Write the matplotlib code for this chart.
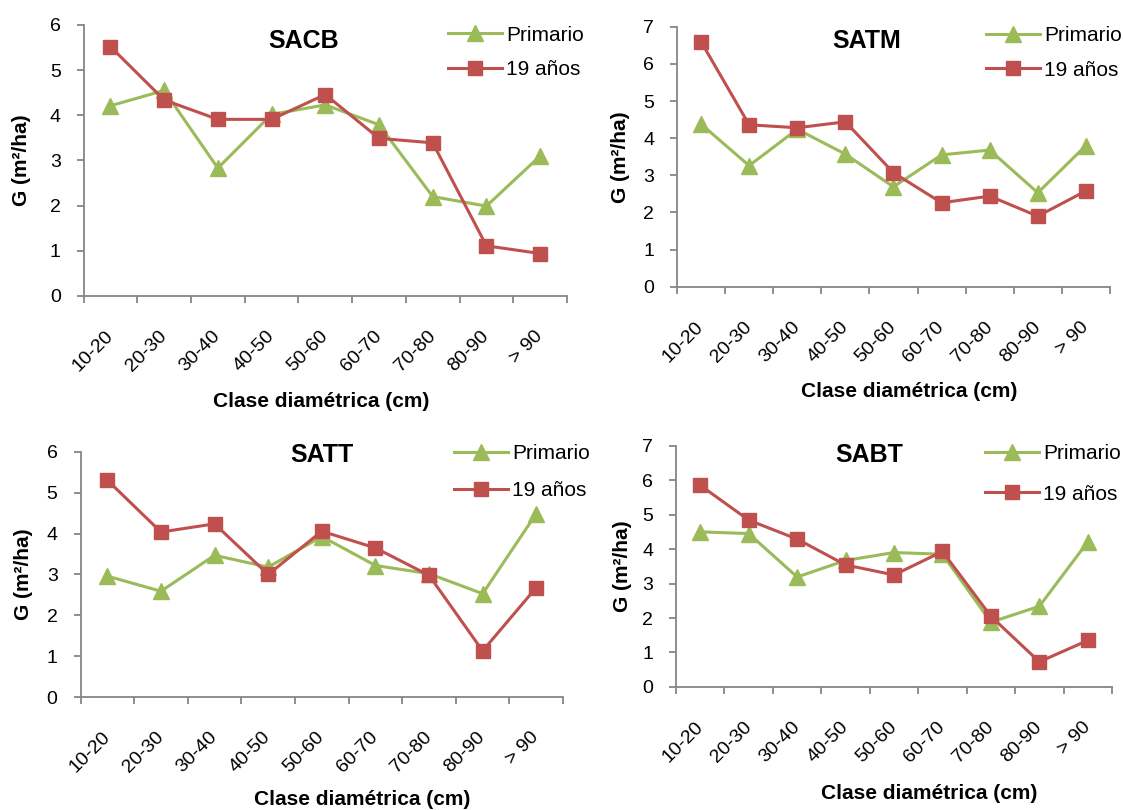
import matplotlib
matplotlib.use("Agg")
import matplotlib.pyplot as plt
from matplotlib.ticker import FixedLocator, NullFormatter, FixedFormatter

plt.rcParams['font.family'] = ['Liberation Sans', 'DejaVu Sans']

categories = ["10-20", "20-30", "30-40", "40-50", "50-60", "60-70", "70-80", "80-90", "> 90"]

sacb_primario = [4.21, 4.55, 2.83, 4.02, 4.23, 3.79, 2.20, 1.99, 3.10]
sacb_19 = [5.52, 4.34, 3.91, 3.91, 4.46, 3.49, 3.39, 1.11, 0.94]

satm_primario = [4.38, 3.26, 4.24, 3.57, 2.69, 3.55, 3.68, 2.53, 3.80]
satm_19 = [6.60, 4.36, 4.28, 4.44, 3.07, 2.26, 2.44, 1.90, 2.58]

satt_primario = [2.96, 2.59, 3.47, 3.18, 3.93, 3.22, 3.02, 2.53, 4.49]
satt_19 = [5.31, 4.04, 4.24, 3.00, 4.06, 3.65, 2.98, 1.13, 2.68]

sabt_primario = [4.50, 4.45, 3.19, 3.67, 3.90, 3.85, 1.88, 2.34, 4.21]
sabt_19 = [5.85, 4.84, 4.29, 3.54, 3.25, 3.93, 2.05, 0.73, 1.35]

titles = ["SACB", "SATM", "SATT", "SABT"]
series_labels = ["Primario", "19 años"]
ymax = [6, 7, 6, 7]

GREEN = "#9BBB59"
RED = "#C0504D"
GRAY = "#868686"

# layout (figure fractions) and text placement (axes fractions)
axes_rects = [
    (0.0744, 0.6346, 0.4305, 0.3346),
    (0.6028, 0.6460, 0.3856, 0.3210),
    (0.0717, 0.1395, 0.4297, 0.3025),
    (0.6020, 0.1519, 0.3882, 0.2979),
]
title_pos = [(0.455, 0.941), (0.439, 0.945), (0.500, 0.988), (0.443, 0.962)]
legend_anchor = [(0.753, 0.997), (0.7136, 1.003), (0.773, 1.033), (0.7076, 1.007)]
legend_spacing = [0.75, 0.75, 0.89, 1.04]
xlabel_pos = [(0.491, -0.354), (0.537, -0.367), (0.584, -0.38), (0.580, -0.402)]
ylabel_x = [-0.1086, -0.1085, -0.098, -0.101]

data = [
    (sacb_primario, sacb_19),
    (satm_primario, satm_19),
    (satt_primario, satt_19),
    (sabt_primario, sabt_19),
]

fig = plt.figure(figsize=(11.23, 8.10), dpi=100)
x = list(range(len(categories)))

for i, (prim, s19) in enumerate(data):
    ax = fig.add_axes(axes_rects[i])
    ax.plot(x, prim, color=GREEN, lw=2.2, marker="^", markersize=11,
            markerfacecolor=GREEN, markeredgecolor=GREEN, label=series_labels[0], zorder=3)
    ax.plot(x, s19, color=RED, lw=2.2, marker="s", markersize=10,
            markerfacecolor=RED, markeredgecolor=RED, label=series_labels[1], zorder=4)
    ax.set_xlim(-0.5, len(categories) - 0.5)
    ax.set_ylim(0, ymax[i])
    ax.set_yticks(range(0, ymax[i] + 1))
    for s in ["top", "right"]:
        ax.spines[s].set_visible(False)
    for s in ["left", "bottom"]:
        ax.spines[s].set_color(GRAY)
        ax.spines[s].set_linewidth(1.3)
    ax.spines["left"].set_zorder(1)
    ax.spines["bottom"].set_zorder(1)
    # category ticks at boundaries, labels at centres
    ax.xaxis.set_major_locator(FixedLocator([k - 0.5 for k in range(len(categories) + 1)]))
    ax.xaxis.set_major_formatter(NullFormatter())
    ax.xaxis.set_minor_locator(FixedLocator(x))
    ax.xaxis.set_minor_formatter(FixedFormatter(categories))
    ax.tick_params(axis="x", which="major", direction="out", length=5, width=1.3, color=GRAY)
    ax.tick_params(axis="x", which="minor", length=0, pad=27, labelsize=14)
    for lab in ax.get_xticklabels(minor=True):
        lab.set_rotation(45)
        lab.set_ha("right")
        lab.set_va("center")
        lab.set_rotation_mode("anchor")
    ax.tick_params(axis="y", direction="out", length=5, width=1.3, color=GRAY, pad=11.5, labelsize=14)
    ax.text(title_pos[i][0], title_pos[i][1], titles[i], transform=ax.transAxes,
            ha="center", va="center", fontsize=18, fontweight="bold")
    ax.set_xlabel("Clase diamétrica (cm)", fontsize=15, fontweight="bold")
    ax.xaxis.set_label_coords(*xlabel_pos[i])
    ax.set_ylabel("G (m²/ha)", fontsize=15, fontweight="bold")
    ax.yaxis.set_label_coords(ylabel_x[i], 0.5)
    ax.legend(loc="upper left", bbox_to_anchor=legend_anchor[i], frameon=False,
              fontsize=15, handlelength=2.6, handletextpad=0.2, labelspacing=legend_spacing[i],
              borderpad=0, borderaxespad=0)

fig.savefig("out.png", dpi=100)
